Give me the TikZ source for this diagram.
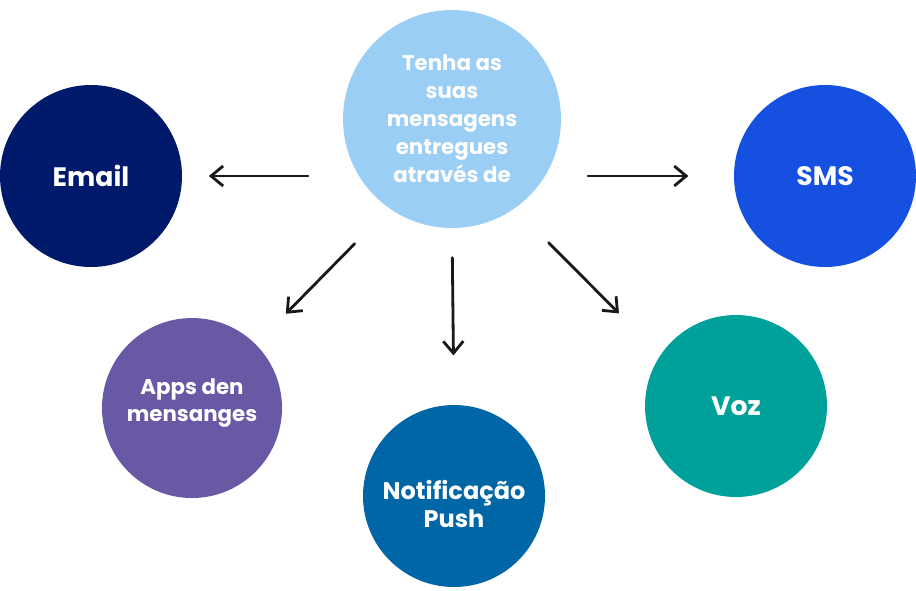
\documentclass[tikz,border=0pt]{standalone}
\usepackage{fontspec}
\setmainfont{Poppins}
\usetikzlibrary{arrows.meta, positioning}

\definecolor{hubblue}{RGB}{154,206,245}
\definecolor{navy}{RGB}{0,26,107}
\definecolor{smsblue}{RGB}{21,80,224}
\definecolor{appsviolet}{RGB}{105,89,165}
\definecolor{pushblue}{RGB}{0,102,166}
\definecolor{vozteal}{RGB}{0,161,154}

\begin{document}
\begin{tikzpicture}[
    x=0.75pt, y=-0.75pt,
    bubble/.style={circle, minimum size=136.5pt, inner sep=0pt,
                   text=white, align=center, font=\bfseries\fontsize{20}{24}\selectfont},
    arr/.style={-{Straight Barb[length=9pt, width=15pt]}, line width=2.1pt,
                line cap=round, black!90},
    >=Stealth
  ]
  \useasboundingbox (0,0) rectangle (916,590);

  \node[bubble, fill=hubblue, minimum size=163.5pt,
        font=\bfseries\fontsize{16}{21}\selectfont] (hub) at (452,119)
    {Tenha as\\suas\\mensagens\\entregues\\através de};

  \node[bubble, fill=navy] (email) at (91,176) {Email};
  \node[bubble, fill=smsblue] (sms) at (825,176) {SMS};
  \node[bubble, fill=appsviolet, minimum size=135pt,
        font=\bfseries\fontsize{16}{20}\selectfont] (apps) at (192,408)
    {Apps den\\mensanges\\[-8pt]};
  \node[bubble, fill=pushblue,
        font=\bfseries\fontsize{18}{21}\selectfont] (push) at (454,496)
    {\\[6pt]Notificação\\Push};
  \node[bubble, fill=vozteal] (voz) at (736,406) {Voz};

  % arrows out of the hub
  \draw[arr, shorten <=26pt, shorten >=20pt] (hub.west |- email.east) -- (email.east);
  \draw[arr, shorten <=20pt, shorten >=34pt] (hub.east |- sms.west) -- (sms.west);
  \draw[arr, shorten <=37pt, shorten >=32pt] (hub.235) -- (apps.45);
  \draw[arr, shorten <=22pt, shorten >=37pt] (hub.south) -- (push.north);
  \draw[arr, shorten <=36pt, shorten >=44pt] (hub.305) -- (voz.146);
\end{tikzpicture}
\end{document}
